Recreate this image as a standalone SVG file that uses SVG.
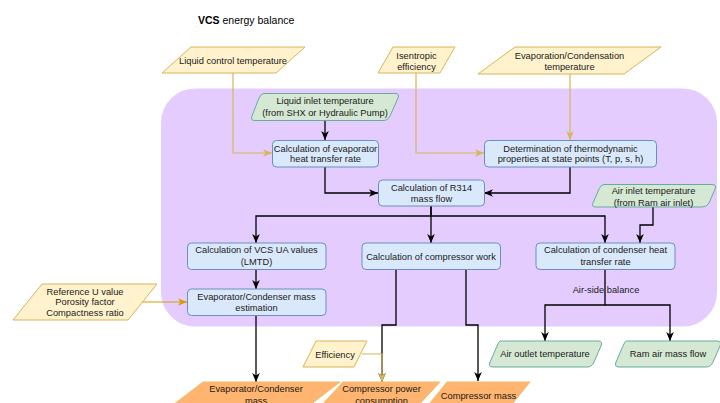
<svg xmlns="http://www.w3.org/2000/svg" width="720" height="403" viewBox="0 0 720 403">
  <defs>
    <marker id="arrow-black" markerUnits="userSpaceOnUse" markerWidth="9" markerHeight="9" viewBox="0 0 8 8" refX="8" refY="4" orient="auto">
      <path d="M0,0.6 L8,4 L0,7.4 L2.2,4 z" fill="#000"/>
    </marker>
    <marker id="arrow-sand" markerUnits="userSpaceOnUse" markerWidth="9" markerHeight="9" viewBox="0 0 8 8" refX="8" refY="4" orient="auto">
      <path d="M0,0.6 L8,4 L0,7.4 L2.2,4 z" fill="#d6b656"/>
    </marker>
    <marker id="arrow-amber" markerUnits="userSpaceOnUse" markerWidth="9" markerHeight="9" viewBox="0 0 8 8" refX="8" refY="4" orient="auto">
      <path d="M0,0.6 L8,4 L0,7.4 L2.2,4 z" fill="#d79b00"/>
    </marker>
    <style>
      text { font-family: "Liberation Sans", Arial, sans-serif; font-size: 9.3px; fill: #1a1a1a; text-anchor: middle; }
      .title { font-size: 10.5px; text-anchor: start; fill: #000; }
      .proc { fill: #dae8fc; stroke: #6c8ebf; stroke-width: 1; }
      .input { fill: #fff2cc; stroke: #d6b656; stroke-width: 1; stroke-linejoin: round; }
      .ext { fill: #d5e8d4; stroke: #67ab9f; stroke-width: 1; stroke-linejoin: round; }
      .out { fill: #ffb570; stroke: #e8bd6a; stroke-width: 1; stroke-linejoin: round; }
      .flow { fill: none; stroke: #000; stroke-width: 1.3; marker-end: url(#arrow-black); }
      .flow-in { fill: none; stroke: #d6b656; stroke-width: 1.2; marker-end: url(#arrow-sand); }
      .flow-amber { fill: none; stroke: #d79b00; stroke-width: 1.2; marker-end: url(#arrow-amber); }
    </style>
  </defs>

  <rect width="720" height="403" fill="#fff"/>

  <!-- VCS boundary -->
  <rect x="161" y="88.5" width="556" height="238" rx="34" ry="34" fill="#e5ccff"/>

  <text class="title" x="198" y="24"><tspan font-weight="bold">VCS</tspan> energy balance</text>

  <!-- connectors -->
  <g id="connectors">
    <polyline class="flow-in" points="233,73 233,153 272,153"/>
    <polyline class="flow-in" points="416,73 416,153 484,153"/>
    <polyline class="flow-in" points="570,74 570,140"/>
    <polyline class="flow" points="325,120.5 325,140"/>
    <polyline class="flow" points="325,167 325,193 378,193"/>
    <polyline class="flow" points="570,167 570,193 484,193"/>
    <polyline class="flow" points="431,206 431,216 256,216 256,243"/>
    <polyline class="flow" points="431,206 431,243"/>
    <polyline class="flow" points="431,216 605,216 605,243"/>
    <polyline class="flow" points="653,207 653,225 640,225 640,243"/>
    <polyline class="flow" points="256,269 256,289"/>
    <polyline class="flow-amber" points="142,302 187,302"/>
    <polyline class="flow" points="256,315 256,382"/>
    <polyline class="flow" points="396,269 396,325 382,325 382,382"/>
    <polyline class="flow-in" points="362,354 382,354 382,382"/>
    <polyline class="flow" points="466,269 466,325 478,325 478,381"/>
    <polyline class="flow" points="605,269 605,305 545,305 545,341"/>
    <polyline class="flow" points="605,305 670,305 670,341"/>
    <text x="606" y="292.5">Air-side balance</text>
  </g>

  <!-- inputs -->
  <g id="liquid-control-temperature">
    <polygon class="input" points="191,47 305,47 276,73 162,73"/>
    <text x="233" y="64">Liquid control temperature</text>
  </g>
  <g id="isentropic-efficiency">
    <polygon class="input" points="393,47 455,47 440,73 378,73"/>
    <text x="416.5" y="59"><tspan x="416.5">Isentropic</tspan><tspan x="416.5" dy="11">efficiency</tspan></text>
  </g>
  <g id="evaporation-condensation-temperature">
    <polygon class="input" points="515,47 661,47 624,74 478,74"/>
    <text x="569.5" y="59"><tspan x="569.5">Evaporation/Condensation</tspan><tspan x="569.5" dy="11">temperature</tspan></text>
  </g>
  <g id="reference-parameters">
    <polygon class="input" points="42,284 157,284 128,320 13,320"/>
    <text x="85" y="294.5"><tspan x="85">Reference U value</tspan><tspan x="85" dy="10.8">Porosity factor</tspan><tspan x="85" dy="10.8">Compactness ratio</tspan></text>
  </g>
  <g id="efficiency">
    <polygon class="input" points="316,341 367,341 354,367 303,367"/>
    <text x="335" y="357.5">Efficiency</text>
  </g>

  <!-- external conditions -->
  <g id="liquid-inlet-temperature">
    <path class="ext" d="M264,93.5 L395,93.5 Q400,93.5 398,98 L390,116 Q388,120.5 383,120.5 L255,120.5 Q250,120.5 252,116 L259,98 Q261,93.5 264,93.5 z"/>
    <text x="325" y="104"><tspan x="325">Liquid inlet temperature</tspan><tspan x="325" dy="12">(from SHX or Hydraulic Pump)</tspan></text>
  </g>
  <g id="air-inlet-temperature">
    <path class="ext" d="M604,184.5 L712,184.5 Q717,184.5 715,189 L709,203 Q707,207 702,207 L596,207 Q591,207 593,203 L599,189 Q601,184.5 604,184.5 z"/>
    <text x="653.5" y="194"><tspan x="653.5">Air inlet temperature</tspan><tspan x="653.5" dy="11.5">(from Ram air inlet)</tspan></text>
  </g>
  <g id="air-outlet-temperature">
    <path class="ext" d="M500,341 L598,341 Q603,341 601,346 L594,362 Q592,367 587,367 L493,367 Q488,367 490,362 L497,346 Q499,341 500,341 z"/>
    <text x="545" y="357">Air outlet temperature</text>
  </g>
  <g id="ram-air-mass-flow">
    <path class="ext" d="M626,341 L717,341 Q722,341 720,346 L713,362 Q711,367 706,367 L619,367 Q614,367 616,362 L623,346 Q625,341 626,341 z"/>
    <text x="668" y="357">Ram air mass flow</text>
  </g>

  <!-- process steps -->
  <g id="evaporator-heat-transfer">
    <rect class="proc" x="272.5" y="140.5" width="106" height="26.5" rx="4"/>
    <text x="325.5" y="151.6"><tspan x="325.5">Calculation of evaporator</tspan><tspan x="325.5" dy="10.8">heat transfer rate</tspan></text>
  </g>
  <g id="thermodynamic-properties">
    <rect class="proc" x="484.5" y="140.5" width="172" height="26.5" rx="4"/>
    <text x="570.5" y="151.6"><tspan x="570.5">Determination of thermodynamic</tspan><tspan x="570.5" dy="10.6">properties at state points (T, p, s, h)</tspan></text>
  </g>
  <g id="r314-mass-flow">
    <rect class="proc" x="378.5" y="180" width="106" height="26" rx="4"/>
    <text x="431.5" y="190.6"><tspan x="431.5">Calculation of R314</tspan><tspan x="431.5" dy="11">mass flow</tspan></text>
  </g>
  <g id="vcs-ua-values">
    <rect class="proc" x="187.5" y="243" width="138.5" height="26.5" rx="4"/>
    <text x="256.5" y="253.3"><tspan x="256.5">Calculation of VCS UA values</tspan><tspan x="256.5" dy="11.5">(LMTD)</tspan></text>
  </g>
  <g id="mass-estimation">
    <rect class="proc" x="187.5" y="289" width="138.5" height="26.5" rx="4"/>
    <text x="256.5" y="300"><tspan x="256.5">Evaporator/Condenser mass</tspan><tspan x="256.5" dy="10.5">estimation</tspan></text>
  </g>
  <g id="compressor-work">
    <rect class="proc" x="362" y="243" width="138.5" height="26.5" rx="4"/>
    <text x="431" y="259.5">Calculation of compressor work</text>
  </g>
  <g id="condenser-heat-transfer">
    <rect class="proc" x="536" y="243" width="139" height="26.5" rx="4"/>
    <text x="605.5" y="253.3"><tspan x="605.5">Calculation of condenser heat</tspan><tspan x="605.5" dy="11.5">transfer rate</tspan></text>
  </g>

  <!-- outputs -->
  <g id="evaporator-condenser-mass">
    <polygon class="out" points="203,382 340,382 306,408 169,408"/>
    <text x="256" y="392.3"><tspan x="256">Evaporator/Condenser</tspan><tspan x="256" dy="11.5">mass</tspan></text>
  </g>
  <g id="compressor-power-consumption">
    <polygon class="out" points="343,382 440,382 416,408 319,408"/>
    <text x="381.5" y="392.3"><tspan x="381.5">Compressor power</tspan><tspan x="381.5" dy="11.5">consumption</tspan></text>
  </g>
  <g id="compressor-mass">
    <polygon class="out" points="447,382 530,382 509,408 426,408"/>
    <text x="478.5" y="398.5">Compressor mass</text>
  </g>
</svg>
